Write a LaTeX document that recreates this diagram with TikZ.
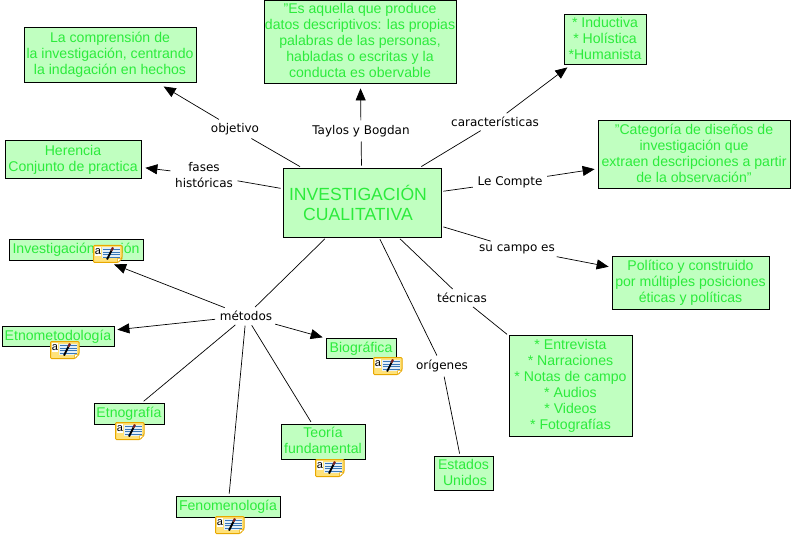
\documentclass[tikz,border=0pt]{standalone}
\usepackage{fontspec}
\setmainfont{Liberation Sans}
\newfontfamily\labelfont{DejaVu Sans}
\usetikzlibrary{arrows.meta,calc}
\definecolor{cbox}{HTML}{C0FFC0}
\definecolor{ctxt}{HTML}{2CEB3C}
\definecolor{noteedge}{HTML}{E8A800}
\definecolor{notefill}{HTML}{FFE27A}
\definecolor{notepaper}{HTML}{E4F0F8}
\definecolor{noteline}{HTML}{3A78B8}
\definecolor{notepen}{HTML}{7A1E1E}
\newcommand\tl[2][-1pt]{\raisebox{#1}[\height][\depth]{\begin{tabular}{@{}c@{}}#2\end{tabular}}}
\tikzset{
  concept/.style={draw=black,line width=0.8pt,fill=cbox,text=ctxt,font=\fontsize{14.1}{16}\selectfont,inner sep=0pt},
  linklabel/.style={text=black,font=\labelfont\fontsize{12}{15.5}\selectfont,align=center,inner sep=2.5pt},
  plain/.style={line width=0.7pt,shorten <=2pt,shorten >=2pt},
  arrowline/.style={line width=0.7pt,-{Triangle[length=12pt,width=10pt]},shorten <=2pt,shorten >=#1},
  arrowline/.default=3pt,
  pics/noteicon/.style={code={
    \fill[draw=noteedge,line width=1pt,fill=notefill,rounded corners=1pt] (0.5,0.5) -- (29,0.5) -- (29,13) -- (25,17.5) -- (0.5,17.5) -- cycle;
    \fill[notepaper] (9,2.5) rectangle (27,13.5);
    \fill[white] (2,2) rectangle (8,11);
    \foreach \yy in {4.5,7,9.5,12}{\draw[noteline,line width=0.7pt] (10,\yy) -- (26.5,\yy);}
    \draw[black,line width=1.8pt] (14,14.5) -- (18.5,5.5);
    \draw[notepen,line width=2.2pt] (18.5,5.5) -- (20,2.5);
    \node[text=black,font=\fontsize{11}{11}\selectfont,inner sep=0pt] at (5,6.3) {a};
    \fill[white,draw=noteedge,line width=0.5pt] (29,13.5) -- (24.5,13.5) -- (24.5,17.5) -- cycle;
  }}
}
\begin{document}
\begin{tikzpicture}[x=1pt,y=-1pt]
\useasboundingbox (0,0) rectangle (800,537);
\node[concept,minimum width=158pt,minimum height=69pt,font=\fontsize{17.6}{20}\selectfont] (c) at (362,202.5) {\tl[-3pt]{INVESTIGACIÓN\\CUALITATIVA}\hspace*{8pt}};
\node[concept,minimum width=172pt,minimum height=55pt] (comp) at (110,54.5) {\tl{La comprensión de\\la investigación, centrando\\la indagación en hechos}};
\node[concept,minimum width=192pt,minimum height=83pt] (es) at (360,41.5) {\tl{"Es aquella que produce\\datos descriptivos: las propias\\palabras de las personas,\\habladas o escritas y la\\conducta es obervable}};
\node[concept,minimum width=82pt,minimum height=50pt] (ind) at (605,39) {\tl{* Inductiva\\{}* Holística\\{}*Humanista}};
\node[concept,minimum width=192pt,minimum height=68pt] (cat) at (694,154) {\tl{"Categoría de diseños de\\investigación  que\\extraen descripciones a partir\\de la observación"}};
\node[concept,minimum width=157pt,minimum height=53pt] (pol) at (690.5,282.5) {\tl{Político y construido\\por múltiples posiciones\\éticas y políticas}};
\node[concept,minimum width=123pt,minimum height=101pt] (ent) at (570.5,385.5) {\tl{* Entrevista\\{}* Narraciones\\{}* Notas de campo\\{}* Audios\\{}* Videos\\{}* Fotografías}};
\node[concept,minimum width=59pt,minimum height=34pt] (est) at (463.5,473) {\tl{Estados\\\hspace*{3pt}Unidos}};
\node[concept,minimum width=84pt,minimum height=35pt] (teo) at (323,441.5) {\tl{Teoría\\fundamental}};
\node[concept,minimum width=104pt,minimum height=21pt] (fen) at (228,506.5) {\tl{Fenomenología}};
\node[concept,minimum width=70pt,minimum height=21pt] (etn) at (129,413.5) {\tl{Etnografía}};
\node[concept,minimum width=70pt,minimum height=20pt] (bio) at (361,348) {\tl{Biográfica}};
\node[concept,minimum width=112pt,minimum height=20pt] (eme) at (58,336) {\tl{Etnometodología}};
\node[concept,minimum width=134pt,minimum height=21pt] (inv) at (76,249.5) {\tl{Investigación acción}};
\node[concept,minimum width=136pt,minimum height=38pt] (her) at (73,159) {\tl{Herencia\\Conjunto de practica}};

\node[linklabel] (lobj) at (235,129) {objetivo};
\node[linklabel] (ltay) at (361,131) {Taylos y Bogdan};
\node[linklabel] (lcar) at (495,122) {características};
\node[linklabel] (lfas) at (204,175) {fases\\históricas};
\node[linklabel] (lcom) at (510,182) {Le Compte};
\node[linklabel] (lcam) at (517,249) {su campo es};
\node[linklabel] (ltec) at (462,298) {técnicas};
\node[linklabel] (lori) at (442,366) {orígenes};
\node[linklabel] (lmet) at (246,316) {métodos};

\foreach \lab in {lobj,ltay,lcar,lfas,lcom,lcam,ltec,lori,lmet}{
  \draw[plain] (c) -- (\lab);
}
\draw[arrowline=8pt] (lobj) -- (comp);
\draw[arrowline=5pt] (ltay) -- (es);
\draw[arrowline=5pt] (lcar) -- (ind);
\draw[arrowline=4pt] (lfas) -- (her);
\draw[arrowline=3pt] (lcom) -- (cat);
\draw[arrowline=3pt] (lcam) -- (pol);
\draw[plain] (ltec) -- (ent);
\draw[plain] (lori) -- (est);
\draw[arrowline=11pt] (lmet) -- (inv);
\draw[arrowline=3pt] (lmet) -- (eme);
\draw[arrowline=3pt] (lmet) -- (bio);
\draw[plain] (lmet) -- (etn);
\draw[plain] (lmet) -- (fen);
\draw[plain] (lmet) -- (teo);

\pic at (93,245) {noteicon};
\pic at (50,341) {noteicon};
\pic at (373,357) {noteicon};
\pic at (115,422) {noteicon};
\pic at (315,459) {noteicon};
\pic at (215,516) {noteicon};
\end{tikzpicture}
\end{document}
